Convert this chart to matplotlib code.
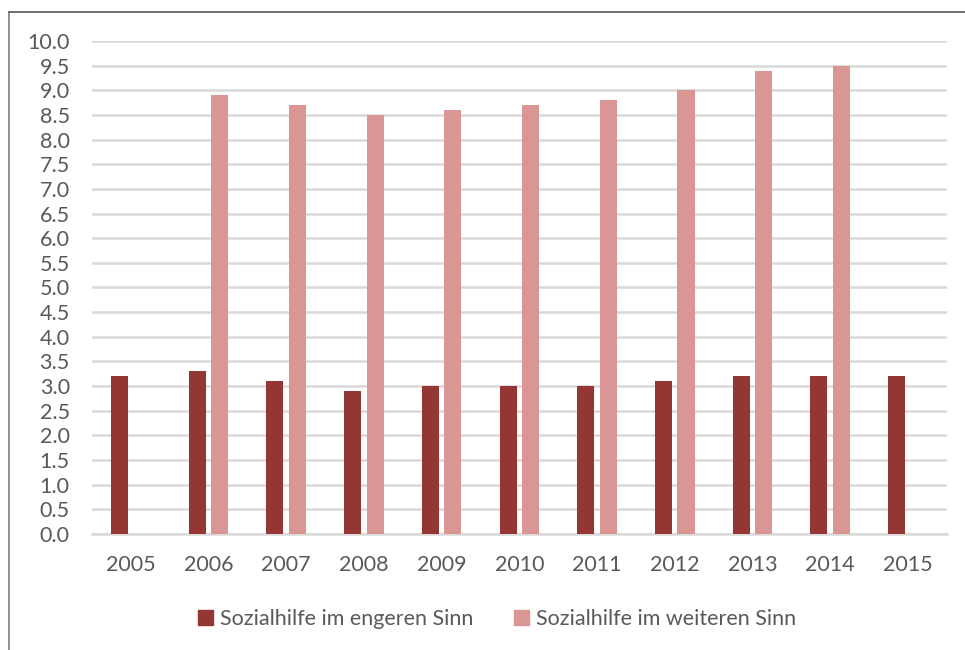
import matplotlib.pyplot as plt
import numpy as np
from matplotlib.lines import Line2D
from matplotlib.patches import Patch

plt.rcParams['font.family'] = ['Lato', 'DejaVu Sans']

# Daten
jahre = ['2005', '2006', '2007', '2008', '2009', '2010', '2011', '2012', '2013', '2014', '2015']
engerer_sinn = [3.2, 3.3, 3.1, 2.9, 3.0, 3.0, 3.0, 3.1, 3.2, 3.2, 3.2]
weiterer_sinn = [np.nan, 8.9, 8.7, 8.5, 8.6, 8.7, 8.8, 9.0, 9.4, 9.5, np.nan]

dunkel = '#943634'
hell = '#D99694'
text_farbe = '#595959'

fig = plt.figure(figsize=(9.65, 6.5), dpi=100)
ax = fig.add_axes([0.0953, 0.1785, 0.8857, 0.7584])

x = np.arange(len(jahre))
breite = 0.22
ax.bar(x - 0.145, engerer_sinn, width=breite, color=dunkel, zorder=3)
ax.bar(x + 0.145, weiterer_sinn, width=breite, color=hell, zorder=3)

ax.set_xlim(-0.5, len(jahre) - 0.5)
ax.set_ylim(0, 10)
ax.set_yticks(np.arange(0, 10.01, 0.5))
ax.set_yticklabels([f'{v:.1f}' for v in np.arange(0, 10.01, 0.5)])
ax.set_xticks(x)
ax.set_xticklabels(jahre)
ax.grid(axis='y', color='#D9D9D9', linewidth=1.8, zorder=0)
for s in ['top', 'right', 'left']:
    ax.spines[s].set_visible(False)
ax.spines['bottom'].set_color('#D9D9D9')
ax.spines['bottom'].set_linewidth(1.8)
ax.tick_params(axis='both', length=0, labelsize=15.5, colors=text_farbe)
ax.tick_params(axis='y', pad=16)
ax.tick_params(axis='x', pad=15)

handles = [Patch(color=dunkel), Patch(color=hell)]
fig.legend(handles, ['Sozialhilfe im engeren Sinn', 'Sozialhilfe im weiteren Sinn'],
           loc='center', bbox_to_anchor=(0.515, 0.048), ncol=2, frameon=False,
           fontsize=15.5, labelcolor=text_farbe, handlelength=0.7, handleheight=0.7,
           handletextpad=0.3, columnspacing=1.9)

# Rahmen
fig.add_artist(Line2D([9 / 965, 9 / 965], [0, 1 - 12 / 650], color='#7F7F7F', linewidth=1.2))
fig.add_artist(Line2D([9 / 965, 1], [1 - 12 / 650, 1 - 12 / 650], color='#595959', linewidth=1.2))

fig.savefig('out.png', dpi=100)
